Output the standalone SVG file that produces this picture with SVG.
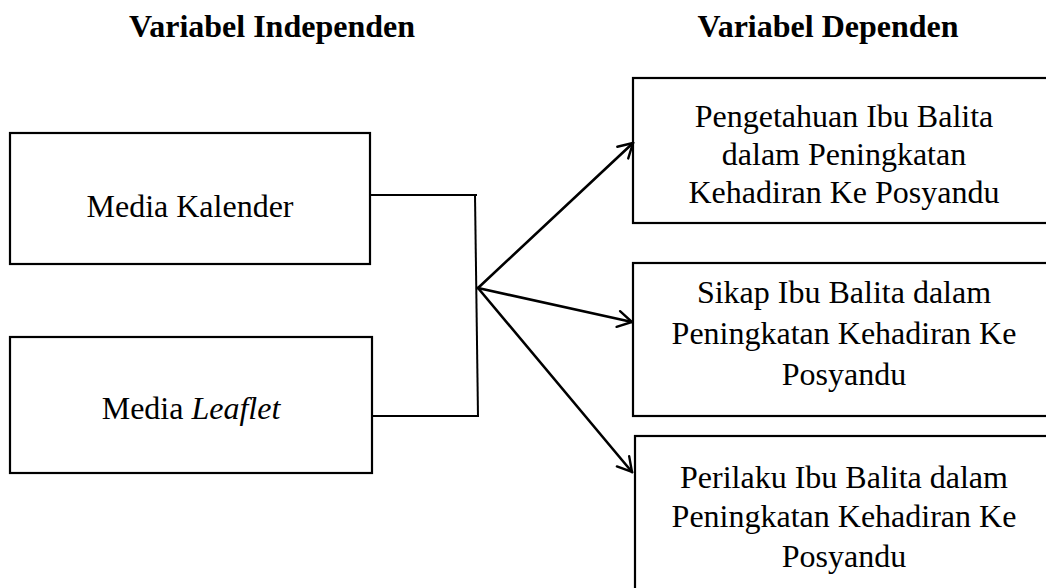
<svg xmlns="http://www.w3.org/2000/svg" width="1046" height="588" viewBox="0 0 1046 588">
<style>
  .box { fill: #fff; stroke: #000; stroke-width: 2.2; }
  .t { font-family: "Liberation Serif", "Times New Roman", serif; font-size: 32px; fill: #000; text-anchor: middle; }
  .h { font-family: "Liberation Serif", "Times New Roman", serif; font-size: 32px; font-weight: bold; fill: #000; text-anchor: middle; }
  .ln { fill: none; stroke: #000; stroke-width: 2; }
  .ar { fill: none; stroke: #000; stroke-width: 2.6; stroke-linecap: round; }
</style>
<defs>
  <marker id="arr" viewBox="0 0 20 20" refX="18" refY="10" markerWidth="20" markerHeight="20" markerUnits="userSpaceOnUse" orient="auto">
    <path d="M4 2 L18 10 L4 18" fill="none" stroke="#000" stroke-width="2.4" stroke-linecap="round"/>
  </marker>
</defs>
<rect width="1046" height="588" fill="#fff"/>
<g id="headers">
  <text class="h" x="272" y="37">Variabel Independen</text>
  <text class="h" x="828" y="37">Variabel Dependen</text>
</g>
<g id="media-kalender">
  <rect class="box" x="10" y="133" width="360" height="131"/>
  <text class="t" x="190" y="217">Media Kalender</text>
</g>
<g id="media-leaflet">
  <rect class="box" x="10" y="337" width="362" height="136"/>
  <text class="t" x="191" y="419">Media <tspan font-style="italic">Leaflet</tspan></text>
</g>
<g id="pengetahuan">
  <rect class="box" x="633" y="78" width="430" height="145"/>
  <text class="t" x="844" y="127">Pengetahuan Ibu Balita</text>
  <text class="t" x="844" y="165">dalam Peningkatan</text>
  <text class="t" x="844" y="203">Kehadiran Ke Posyandu</text>
</g>
<g id="sikap">
  <rect class="box" x="633" y="263" width="430" height="153"/>
  <text class="t" x="844" y="303">Sikap Ibu Balita dalam</text>
  <text class="t" x="844" y="344">Peningkatan Kehadiran Ke</text>
  <text class="t" x="844" y="385">Posyandu</text>
</g>
<g id="perilaku">
  <rect class="box" x="635" y="436" width="430" height="170"/>
  <text class="t" x="844" y="488">Perilaku Ibu Balita dalam</text>
  <text class="t" x="844" y="527">Peningkatan Kehadiran Ke</text>
  <text class="t" x="844" y="567">Posyandu</text>
</g>
<g id="connectors">
  <polyline class="ln" points="370,195 477,195"/>
  <polyline class="ln" points="475,195 478,416"/>
  <polyline class="ln" points="372,416 479,416"/>
  <line class="ar" x1="478" y1="288" x2="633" y2="143" marker-end="url(#arr)"/>
  <line class="ar" x1="478" y1="288" x2="632" y2="322" marker-end="url(#arr)"/>
  <line class="ar" x1="478" y1="288" x2="632" y2="472" marker-end="url(#arr)"/>
</g>
</svg>
